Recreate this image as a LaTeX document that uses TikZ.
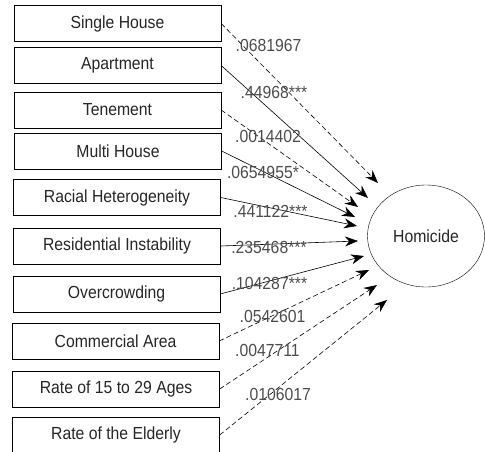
\documentclass[tikz,border=0pt]{standalone}
\usepackage{fontspec}
\setmainfont[FakeStretch=0.9]{Liberation Sans}
\usetikzlibrary{arrows.meta, shapes.geometric}
\begin{document}
\begin{tikzpicture}[x=1pt, y=-1pt, font=\fontsize{17.5}{20}\selectfont,
    var/.style={draw, rectangle, minimum width=207pt, minimum height=36pt, inner sep=0pt, text=black!85},
    coef/.style={text=black!70, inner sep=0pt},
    eff/.style={-{Stealth[length=13pt, width=10pt]}, line width=0.6pt},
    ns/.style={eff, dash pattern=on 5pt off 3pt}]
  \useasboundingbox (0,0) rectangle (485,452);

  \node[var] (single) at (117.5,23.5) {Single House};
  \node[var] (apart) at (117.5,65.5) {Apartment};
  \node[var] (tene) at (117.5,110) {Tenement};
  \node[var] (multi) at (118,151) {Multi House};
  \node[var] (racial) at (117,197.5) {Racial Heterogeneity};
  \node[var] (resid) at (117,246) {Residential Instability};
  \node[var] (crowd) at (116.5,294) {Overcrowding};
  \node[var] (comm) at (115.5,341) {Commercial Area};
  \node[var] (young) at (116,389) {Rate of 15 to 29 Ages};
  \node[var] (elder) at (116,435) {Rate of the Elderly};

  \node[draw, ellipse, minimum width=117pt, minimum height=102pt, inner sep=0pt, text=black!85] (hom) at (426,236) {Homicide};

  \coordinate (t1) at (378,183);
  \coordinate (t2) at (368,198);
  \coordinate (t3) at (358,207);
  \coordinate (t4) at (355,217);
  \coordinate (t5) at (357,226);
  \coordinate (t6) at (358,241);
  \coordinate (t7) at (364,256);
  \coordinate (t8) at (369,270);
  \coordinate (t9) at (377,285);
  \coordinate (t10) at (387,300);

  \draw[ns] (single.east) -- (t1);
  \draw[eff] (apart.east) -- (t2);
  \draw[ns] (tene.east) -- (t3);
  \draw[eff] (multi.east) -- (t4);
  \draw[eff] (racial.east) -- (t5);
  \draw[eff] (resid.east) -- (t6);
  \draw[eff] (crowd.east) -- (t7);
  \draw[ns] (comm.east) -- (t8);
  \draw[ns] (young.east) -- (t9);
  \draw[ns] (elder.east) -- (t10);

  \node[coef] (c1) at (268.5,45) {.0681967};
  \node[coef] (c2) at (274,92) {.44968***};
  \node[coef] (c3) at (268,136) {.0014402};
  \node[coef] (c4) at (263,172) {.0654955*};
  \node[coef] (c5) at (270.5,211) {.441122***};
  \node[coef] (c6) at (269,247) {.235468***};
  \node[coef] (c7) at (269.5,283) {.104287***};
  \node[coef] (c8) at (272.5,316) {.0542601};
  \node[coef] (c9) at (267.5,350) {.0047711};
  \node[coef] (c10) at (278,394) {.0106017};
\end{tikzpicture}
\end{document}
